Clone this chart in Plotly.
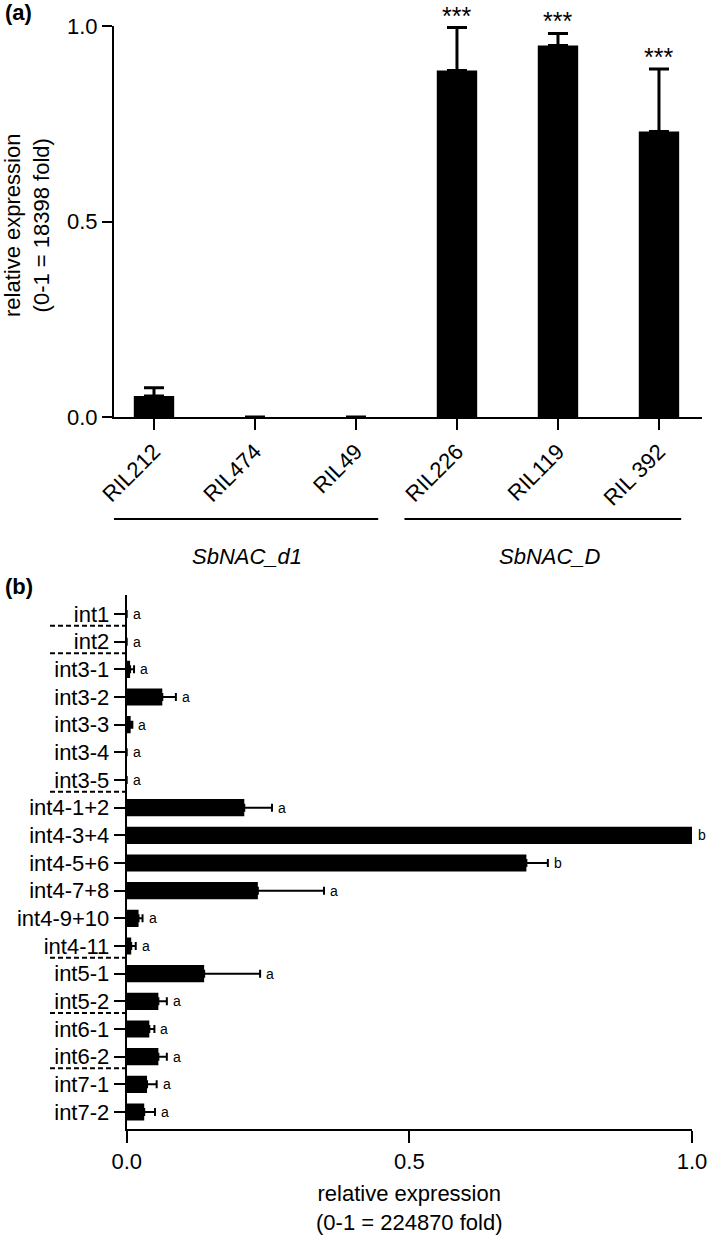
import plotly.graph_objects as go

# ---------------- data ----------------
# panel (a)
lines_a = ["RIL212", "RIL474", "RIL49", "RIL226", "RIL119", "RIL 392"]
expr_a = [0.054, 0.0, 0.0, 0.886, 0.950, 0.730]
err_a = [0.021, 0.0, 0.0, 0.110, 0.031, 0.160]
sig_a = ["", "", "", "***", "***", "***"]
group_names_a = ["SbNAC_d1", "SbNAC_D"]
group_members_a = [[0, 1, 2], [3, 4, 5]]
yticks_a = [0.0, 0.5, 1.0]
yticklabels_a = ["0.0", "0.5", "1.0"]

# panel (b)
regions_b = ["int1", "int2", "int3-1", "int3-2", "int3-3", "int3-4", "int3-5",
             "int4-1+2", "int4-3+4", "int4-5+6", "int4-7+8", "int4-9+10", "int4-11",
             "int5-1", "int5-2", "int6-1", "int6-2", "int7-1", "int7-2"]
expr_b = [0.0, 0.0, 0.006, 0.063, 0.007, 0.0, 0.0,
          0.208, 1.0, 0.707, 0.232, 0.021, 0.008,
          0.137, 0.056, 0.040, 0.056, 0.036, 0.031]
err_b = [0.0, 0.0, 0.007, 0.024, 0.003, 0.0, 0.0,
         0.049, 0.0, 0.038, 0.117, 0.007, 0.008,
         0.099, 0.015, 0.009, 0.015, 0.017, 0.019]
letters_b = ["a", "a", "a", "a", "a", "a", "a",
             "a", "b", "b", "a", "a", "a",
             "a", "a", "a", "a", "a", "a"]
xticks_b = [0.0, 0.5, 1.0]
xticklabels_b = ["0.0", "0.5", "1.0"]

# ---------------- layout helpers ----------------
W, H = 709, 1238
FONT = "Liberation Sans"


def fx(px):
    return px / W


def fy(py):
    return 1 - py / H


def nz(vals):
    # no error bar where the error is zero
    return [v if v > 0 else None for v in vals]


fig = go.Figure()

# panel (a) bars
fig.add_trace(go.Bar(
    x=lines_a, y=expr_a, width=0.4,
    marker=dict(color="black", line=dict(width=0)),
    error_y=dict(type="data", symmetric=False, array=nz(err_a),
                 arrayminus=[0] * len(err_a), color="black", thickness=3, width=10),
    xaxis="x", yaxis="y", cliponaxis=False, hoverinfo="skip"))

# panel (b) bars
fig.add_trace(go.Bar(
    x=expr_b, y=regions_b, orientation="h", width=0.62,
    marker=dict(color="black", line=dict(width=0)),
    error_x=dict(type="data", symmetric=False, array=nz(err_b),
                 arrayminus=[0] * len(err_b), color="black", thickness=2, width=4),
    xaxis="x2", yaxis="y2", cliponaxis=False, hoverinfo="skip"))

axis_common = dict(showgrid=False, zeroline=False, showline=True, linecolor="black",
                   linewidth=2, ticks="outside", tickcolor="black", tickwidth=2,
                   automargin=False,
                   tickfont=dict(family=FONT, size=22, color="black"))

fig.update_layout(
    width=W, height=H, margin=dict(l=0, r=0, t=0, b=0, pad=0),
    paper_bgcolor="white", plot_bgcolor="white", showlegend=False,
    font=dict(family=FONT, color="black"),
    xaxis=dict(domain=[fx(114), fx(702)], range=[-0.396, 5.426], anchor="y",
               type="category", tickangle=-45, ticklen=11, **axis_common),
    yaxis=dict(domain=[fy(417), fy(26)], range=[0, 1], anchor="x",
               tickvals=yticks_a, ticktext=yticklabels_a, ticklen=10, **axis_common),
    xaxis2=dict(domain=[fx(126.7), fx(692)], range=[0, 1], anchor="y2",
                tickvals=xticks_b, ticktext=xticklabels_b, ticklen=12, **axis_common),
    yaxis2=dict(domain=[fy(1129), fy(595)], range=[18.614, -0.687], anchor="x2",
                type="category", ticklen=11, **axis_common),
)

ann = []
shapes = []

# panel letters
ann.append(dict(text="<b>(a)</b>", x=fx(3), y=fy(13), xref="paper", yref="paper",
                xanchor="left", yanchor="middle", showarrow=False,
                font=dict(family=FONT, size=22)))
ann.append(dict(text="<b>(b)</b>", x=fx(3), y=fy(586), xref="paper", yref="paper",
                xanchor="left", yanchor="middle", showarrow=False,
                font=dict(family=FONT, size=22)))

# panel (a) y title
ann.append(dict(text="relative expression<br>(0-1 = 18398 fold)", x=fx(27), y=fy(226),
                xref="paper", yref="paper", textangle=-90, showarrow=False,
                xanchor="center", yanchor="middle",
                font=dict(family=FONT, size=22)))

# significance stars
for name, v, e, s in zip(lines_a, expr_a, err_a, sig_a):
    if s:
        ann.append(dict(text=s, x=name, y=v + e, xref="x", yref="y",
                        yanchor="bottom", xanchor="center", yshift=-4,
                        showarrow=False, font=dict(family=FONT, size=25)))

# group brackets
for gname, members in zip(group_names_a, group_members_a):
    mid = (members[0] + members[-1]) / 2
    half = (members[-1] - members[0]) / 2 + 0.37
    shapes.append(dict(type="line", xref="x", yref="paper",
                       x0=mid - 0.15 - half, x1=mid - 0.15 + half,
                       y0=fy(519), y1=fy(519), line=dict(color="black", width=2)))
    ann.append(dict(text="<i>%s</i>" % gname, x=mid - 0.08, y=fy(556),
                    xref="x", yref="paper", showarrow=False,
                    xanchor="center", yanchor="middle",
                    font=dict(family=FONT, size=22)))

# panel (b) x title
ann.append(dict(text="relative expression<br>(0-1 = 224870 fold)", x=fx(409), y=fy(1208),
                xref="paper", yref="paper", showarrow=False,
                xanchor="center", yanchor="middle",
                font=dict(family=FONT, size=22)))

# letters in panel (b)
for name, v, e, l in zip(regions_b, expr_b, err_b, letters_b):
    ann.append(dict(text=l, x=v + e, y=name, xref="x2", yref="y2",
                    xanchor="left", yanchor="middle", xshift=4,
                    showarrow=False, font=dict(family=FONT, size=14)))

# dashed dividers between intron groups
prefix = [r.split("-")[0] for r in regions_b]
for i in range(len(regions_b) - 1):
    if prefix[i] != prefix[i + 1]:
        shapes.append(dict(type="line", xref="paper", yref="y2",
                           x0=fx(50), x1=fx(126.7), y0=i + 0.42, y1=i + 0.42,
                           line=dict(color="black", width=2, dash="5px,3px")))

fig.update_layout(annotations=ann, shapes=shapes)
fig.write_html("out.html",
               config={"displayModeBar": False, "staticPlot": True},
               post_script="document.body.style.margin='0';"
                           "document.body.style.overflow='hidden';")
